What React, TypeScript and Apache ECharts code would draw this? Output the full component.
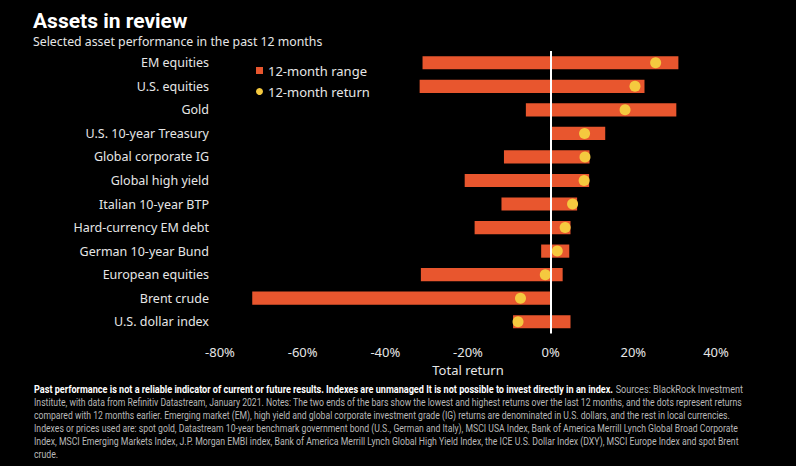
import React, { useEffect, useRef } from "react";
import * as echarts from "echarts";

const categories = [
  "EM equities",
  "U.S. equities",
  "Gold",
  "U.S. 10-year Treasury",
  "Global corporate IG",
  "Global high yield",
  "Italian 10-year BTP",
  "Hard-currency EM debt",
  "German 10-year Bund",
  "European equities",
  "Brent crude",
  "U.S. dollar index",
];
const rangeLow = [-31.0, -31.7, -6.0, 0, -11.3, -20.8, -11.9, -18.4, -2.3, -31.4, -72.2, -9.1];
const rangeHigh = [30.9, 22.7, 30.4, 13.2, 9.4, 9.3, 6.4, 4.8, 4.5, 2.9, 0, 4.8];
const returns12m = [25.4, 20.4, 18.0, 8.2, 8.3, 8.1, 5.3, 3.5, 1.6, -1.3, -7.3, -7.9];
const xTicks = { min: -80, max: 40, interval: 20 };

const titleText = "Assets in review";
const subtitleText = "Selected asset performance in the past 12 months";
const footBold =
  "Past performance is not a reliable indicator of current or future results. Indexes are unmanaged It is not possible to invest directly in an index.";
const footLines = [
  "Sources: BlackRock Investment",
  "Institute, with data from Refinitiv Datastream, January 2021. Notes: The two ends of the bars show the lowest and highest returns over the last 12 months, and the dots represent returns",
  "compared with 12 months earlier. Emerging market (EM), high yield and global corporate investment grade (IG) returns are denominated in U.S. dollars, and the rest in local currencies.",
  "Indexes or prices used are: spot gold, Datastream 10-year benchmark government bond (U.S., German and Italy), MSCI USA Index, Bank of America Merrill Lynch Global Broad Corporate",
  "Index, MSCI Emerging Markets Index, J.P. Morgan EMBI index, Bank of America Merrill Lynch Global High Yield Index, the ICE U.S. Dollar Index (DXY), MSCI Europe Index and spot Brent",
  "crude.",
];
const footTargetWidths = [709, 709, 697, 705, 705, 0];

const ORANGE = "#E8562E";
const YELLOW = "#F5C93F";
const FONT = "'Noto Sans', sans-serif";
const FOOT_FONT = "'Roboto', sans-serif";

function measure(text: string, font: string): number {
  const c = document.createElement("canvas");
  const ctx = c.getContext("2d")!;
  ctx.font = font;
  return ctx.measureText(text).width;
}

export default function App() {
  const ref = useRef<HTMLDivElement>(null);
  useEffect(() => {
    document.body.style.margin = "0";
    document.body.style.background = "#000";
    const chart = echarts.init(ref.current!, null, { renderer: "svg" });

    const fs = 10;
    const footGraphics: any[] = [];
    const lineY0 = 389;
    const lineH = 13;
    let lastScale = 0.75;
    footLines.forEach((line, i) => {
      let w: number;
      if (i === 0) {
        w = measure(footBold + " ", `bold ${fs}px Roboto`) + measure(line, `${fs}px Roboto`);
      } else {
        w = measure(line, `${fs}px Roboto`);
      }
      const target = footTargetWidths[i];
      const sc = target > 0 ? target / w : lastScale;
      if (target > 0) lastScale = sc;
      footGraphics.push({
        type: "text",
        x: 34,
        y: lineY0 + i * lineH,
        scaleX: sc,
        silent: true,
        style: i === 0
          ? {
              text: `{b|${footBold} }{n|${line}}`,
              verticalAlign: "middle",
              rich: {
                b: { fontFamily: FOOT_FONT, fontSize: fs, fontWeight: "bold", fill: "#ffffff" },
                n: { fontFamily: FOOT_FONT, fontSize: fs, fill: "#b8b8b8" },
              },
            }
          : {
              text: line,
              fontFamily: FOOT_FONT,
              fontSize: fs,
              fill: "#b8b8b8",
              verticalAlign: "middle",
            },
      });
    });

    const rangeData = categories.map((_, i) => [rangeLow[i], rangeHigh[i], i]);
    const returnData = categories.map((_, i) => [returns12m[i], i]);

    chart.setOption({
      animation: false,
      backgroundColor: "#000000",
      textStyle: { fontFamily: FONT },
      graphic: [
        {
          type: "text",
          x: 33,
          y: 20.5,
          silent: true,
          style: {
            text: titleText,
            fontFamily: "'Roboto', sans-serif",
            fontWeight: "bold",
            fontSize: 21,
            fill: "#ffffff",
            verticalAlign: "middle",
          },
        },
        {
          type: "text",
          x: 33,
          y: 41,
          silent: true,
          style: {
            text: subtitleText,
            fontFamily: FONT,
            fontSize: 12.3,
            fill: "#e6e6e6",
            verticalAlign: "middle",
          },
        },
        ...footGraphics,
      ],
      legend: {
        data: [
          { name: "12-month range", icon: "rect" },
          { name: "12-month return", icon: "circle" },
        ],
        orient: "vertical",
        left: 251,
        top: 59,
        itemWidth: 7,
        itemHeight: 7,
        itemGap: 8,
        selectedMode: false,
        textStyle: { color: "#e6e6e6", fontSize: 13, fontFamily: FONT },
      },
      grid: { left: 220, right: 80, top: 51, bottom: 132.5 },
      xAxis: {
        type: "value",
        min: xTicks.min,
        max: xTicks.max,
        interval: xTicks.interval,
        name: "Total return",
        nameLocation: "middle",
        nameGap: 28,
        nameTextStyle: { color: "#e6e6e6", fontSize: 13, fontFamily: FONT },
        axisLine: { show: false },
        axisTick: { show: false },
        splitLine: { show: false },
        axisLabel: {
          color: "#e6e6e6",
          fontSize: 13,
          margin: 12,
          fontFamily: FONT,
          formatter: (v: number) => `${v}%`,
        },
      },
      yAxis: {
        type: "category",
        data: categories,
        inverse: true,
        axisLine: { show: false },
        axisTick: { show: false },
        splitLine: { show: false },
        axisLabel: { color: "#e6e6e6", fontSize: 12.5, margin: 11, fontFamily: FONT },
      },
      series: [
        {
          name: "12-month range",
          type: "custom",
          z: 2,
          itemStyle: { color: ORANGE },
          encode: { x: [0, 1], y: 2 },
          data: rangeData,
          renderItem: (params: any, api: any) => {
            const yi = api.value(2);
            const s = api.coord([api.value(0), yi]);
            const e = api.coord([api.value(1), yi]);
            const h = api.size([0, 1])[1] * 0.56;
            return {
              type: "rect",
              shape: { x: s[0], y: s[1] - h / 2, width: e[0] - s[0], height: h },
              style: { fill: ORANGE },
            };
          },
        },
        {
          name: "zero",
          type: "scatter",
          z: 3,
          data: [],
          markLine: {
            silent: true,
            symbol: "none",
            label: { show: false },
            lineStyle: { color: "#ffffff", width: 2, type: "solid" },
            data: [{ xAxis: 0 }],
          },
        },
        {
          name: "12-month return",
          type: "scatter",
          z: 4,
          symbolSize: 11,
          itemStyle: { color: YELLOW, opacity: 1 },
          data: returnData,
        },
      ],
    });
    return () => chart.dispose();
  }, []);
  return <div ref={ref} style={{ width: 796, height: 466 }} />;
}
